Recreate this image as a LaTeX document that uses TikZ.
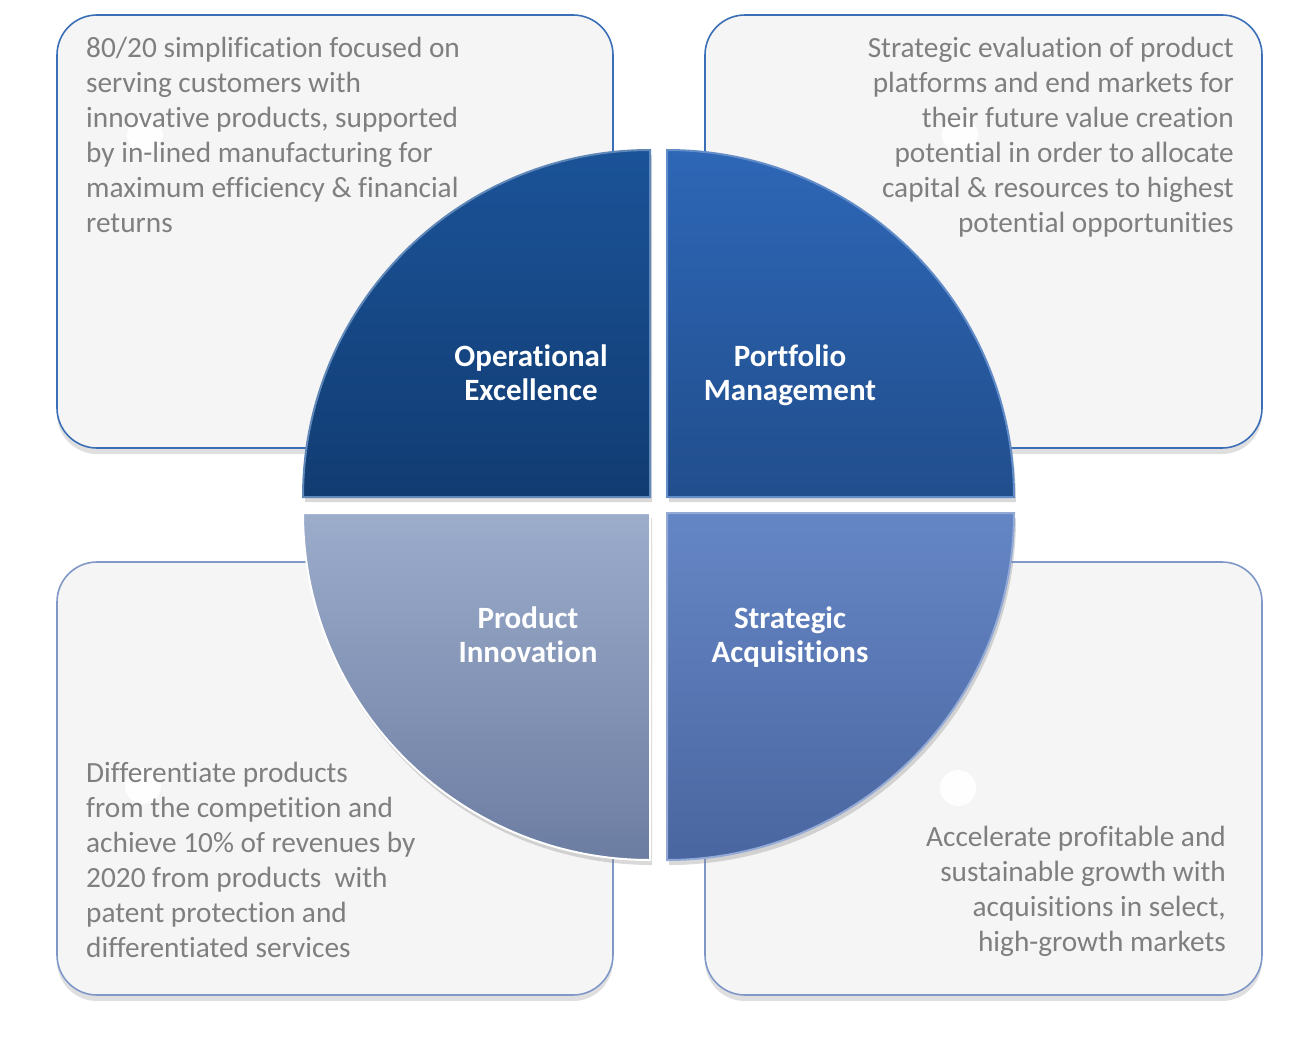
\documentclass[tikz,border=0pt]{standalone}
\usepackage{fontspec}
\setmainfont{Carlito}[Ligatures=CommonOff]
\usepackage{xcolor}
\usetikzlibrary{shadows}

\definecolor{notegray}{HTML}{7F7F7F}
\definecolor{panelfill}{HTML}{F5F5F5}
\definecolor{topedge}{HTML}{3A6FB7}
\definecolor{bottomedge}{HTML}{7F98C8}
\definecolor{oetop}{HTML}{1B5398}
\definecolor{oebot}{HTML}{113C72}
\definecolor{pmtop}{HTML}{2E67B7}
\definecolor{pmbot}{HTML}{214E8D}
\definecolor{pitop}{HTML}{9CACCB}
\definecolor{pibot}{HTML}{6C7DA2}
\definecolor{satop}{HTML}{6586C5}
\definecolor{sabot}{HTML}{4A66A0}

\begin{document}
\begin{tikzpicture}[x=1pt,y=-1pt,
  panel/.style={rounded corners=40pt, fill=panelfill, line width=1.6pt,
    drop shadow={shadow xshift=0pt, shadow yshift=-6pt, opacity=0.25}},
  note/.style={text=notegray, inner sep=0pt, font=\fontsize{29.3}{35}\selectfont},
  quad/.style={line width=2pt,
    drop shadow={shadow xshift=2pt, shadow yshift=-5pt, opacity=0.3}},
  quadtext/.style={text=white, align=center, text depth=0.22em,
    font=\bfseries\fontsize{31}{34}\selectfont}]
  \useasboundingbox (0,0) rectangle (1316,1036);

  \draw[panel, draw=topedge] (57,15) rectangle (613,448);
  \draw[panel, draw=topedge] (705,15) rectangle (1262,448);
  \draw[panel, draw=bottomedge] (57,562) rectangle (613,995);
  \draw[panel, draw=bottomedge] (705,562) rectangle (1262,995);

  \fill[white, opacity=0.9] (145,135) circle[radius=18pt];
  \fill[white, opacity=0.9] (960,135) circle[radius=18pt];
  \fill[white, opacity=0.9] (143,786) circle[radius=18pt];
  \fill[white, opacity=0.9] (958,788) circle[radius=18pt];

  \node[note, anchor=north west, align=left] (oenote) at (86,37)
    {80/20 simplification focused on\\serving customers with\\innovative products, supported\\by in-lined manufacturing for\\maximum efficiency \& financial\\returns};
  \node[note, anchor=north east, align=right] (pmnote) at (1234,37)
    {Strategic evaluation of product\\platforms and end markets for\\their future value creation\\potential in order to allocate\\capital \& resources to highest\\potential opportunities};
  \node[note, anchor=north west, align=left] (pinote) at (86,762)
    {Differentiate products\\from the competition and\\achieve 10\% of revenues by\\2020 from products \ with\\patent protection and\\differentiated services};
  \node[note, anchor=north east, align=right] (sanote) at (1226,826)
    {Accelerate profitable and\\sustainable growth with\\acquisitions in select,\\high-growth markets};

  \path[quad, top color=oetop, bottom color=oebot, draw=oetop!70!white]
    (650,497) -- (303,497) arc[start angle=180, end angle=90, radius=347pt] -- cycle;
  \path[quad, top color=pmtop, bottom color=pmbot, draw=pmtop!75!white]
    (667,497) -- (667,150) arc[start angle=90, end angle=0, radius=347pt] -- cycle;
  \path[quad, top color=pitop, bottom color=pibot, draw=white]
    (650,513) -- (650,860) arc[start angle=270, end angle=180, radius=347pt] -- cycle;
  \path[quad, top color=satop, bottom color=sabot, draw=satop!70!white]
    (667,513) -- (1014,513) arc[start angle=0, end angle=-90, radius=347pt] -- cycle;

  \node[quadtext] (oe) at (531,374) {Operational\\Excellence};
  \node[quadtext] (pm) at (790,374) {Portfolio\\Management};
  \node[quadtext] (pi) at (528,636) {Product\\Innovation};
  \node[quadtext] (sa) at (790,636) {Strategic\\Acquisitions};
\end{tikzpicture}
\end{document}
